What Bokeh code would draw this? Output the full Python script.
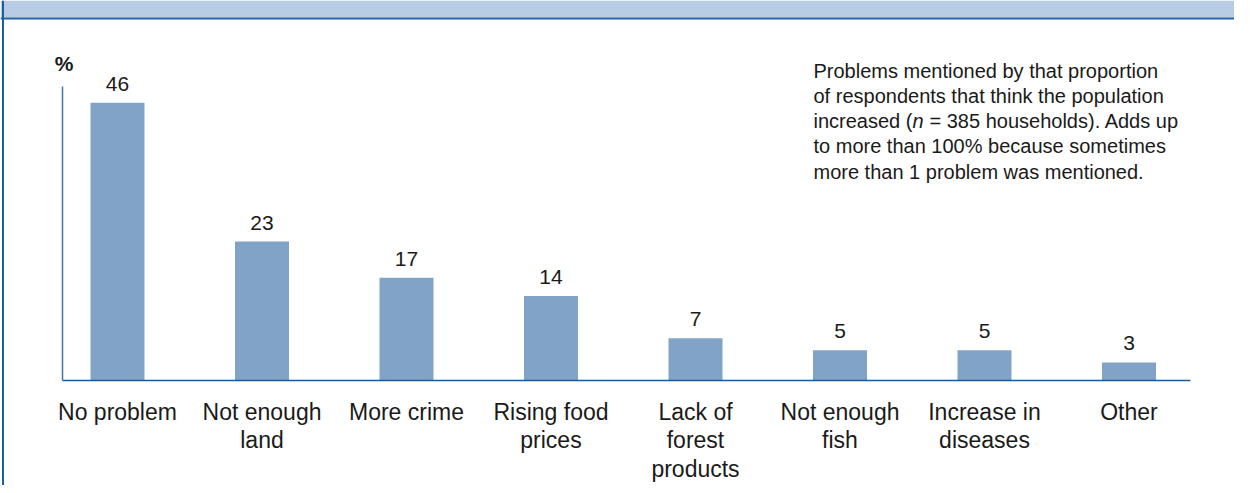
from bokeh.plotting import figure
from bokeh.models import Range1d, FixedTicker
from bokeh.core.properties import value
from bokeh.embed import file_html
from bokeh.resources import INLINE

# ---- data ----
categories = ["No problem", "Not enough\nland", "More crime", "Rising food\nprices",
              "Lack of\nforest\nproducts", "Not enough\nfish", "Increase in\ndiseases", "Other"]
percent = [46, 23, 17, 14, 7, 5, 5, 3]
value_labels = [str(v) for v in percent]

note_lines = ["Problems mentioned by that proportion",
              "of respondents that think the population",
              None,
              "to more than 100% because sometimes",
              "more than 1 problem was mentioned."]
note_line3 = ["increased (", "n", "= 385 households). Adds up"]

# ---- layout (pixel mapping) ----
W, H = 1234, 485
X0 = 117.0      # px of first category centre
DX = 144.5      # px per category
BASE = 380.0    # px of zero line (from top)
K = 6.04        # px per percent

def sx(px):
    return (px - X0) / DX

def sy(py):
    return (BASE - py) / K

FONT = "Liberation Sans"
TXT = "#1a1a1a"

p = figure(width=W, height=H, x_range=Range1d(sx(0), sx(W)), y_range=Range1d(sy(H), sy(0)),
           output_backend="svg", toolbar_location=None,
           min_border=0, min_border_left=0, min_border_right=0, min_border_top=0, min_border_bottom=0)
p.outline_line_color = None
p.grid.visible = False
p.background_fill_color = "white"
p.border_fill_color = "white"

xs = list(range(len(categories)))

# header band and frame
p.quad(left=sx(0), right=sx(W), top=sy(0), bottom=sy(17), fill_color="#b8cce4", line_color=None)
p.segment(x0=sx(0), y0=sy(18), x1=sx(W), y1=sy(18), line_color="#2462a0", line_width=2)
p.segment(x0=sx(2.5), y0=sy(0), x1=sx(2.5), y1=sy(H), line_color="#1f5f99", line_width=2)

# bars
p.vbar(x=xs, top=percent, bottom=0, width=54 / DX, fill_color="#82a3c8", line_color=None)

# value labels
p.text(x=xs, y=[v + 19 / K for v in percent], text=value_labels,
       text_align="center", text_baseline="alphabetic",
       text_font=value(FONT), text_font_size="21px", text_color=TXT)

# axes
xa = p.xaxis[0]
xa.fixed_location = 0
xa.bounds = (sx(62), sx(1190))
xa.ticker = FixedTicker(ticks=xs)
xa.major_label_overrides = {i: c for i, c in enumerate(categories)}
xa.major_tick_line_color = None
xa.minor_tick_line_color = None
xa.major_tick_out = 0
xa.major_tick_in = 0
xa.minor_tick_out = 0
xa.axis_line_color = "#1b5a96"
xa.axis_line_width = 1.5
xa.major_label_text_font = FONT
xa.major_label_text_font_size = "23px"
xa.major_label_text_color = TXT
xa.major_label_standoff = 18
xa.major_label_text_line_height = 1.1

ya = p.yaxis[0]
ya.fixed_location = sx(62)
ya.bounds = (0, sy(86))
ya.ticker = FixedTicker(ticks=[])
ya.major_tick_line_color = None
ya.minor_tick_line_color = None
ya.major_label_text_color = None
ya.axis_line_color = "#3f76ad"
ya.axis_line_width = 1.5

# "%" unit label
p.text(x=[sx(63.5)], y=[sy(62.5)], text=["%"], text_align="center", text_baseline="middle",
       text_font=value(FONT), text_font_size="21px", text_font_style="bold", text_color=TXT)

# note text
NX = 813
for k, line in enumerate(note_lines):
    by = 70 + 25.3 * k
    if line is not None:
        p.text(x=[sx(NX)], y=[sy(by)], text=[line], text_align="left", text_baseline="alphabetic",
               text_font=value(FONT), text_font_size="20px", text_color=TXT)
    else:
        offs = [0, 99, 116]
        styles = ["normal", "italic", "normal"]
        for piece, o, st in zip(note_line3, offs, styles):
            p.text(x=[sx(NX + o)], y=[sy(by)], text=[piece], text_align="left",
                   text_baseline="alphabetic", text_font=value(FONT), text_font_size="20px",
                   text_font_style=st, text_color=TXT)

open("out.html", "w").write(file_html(p, INLINE))
